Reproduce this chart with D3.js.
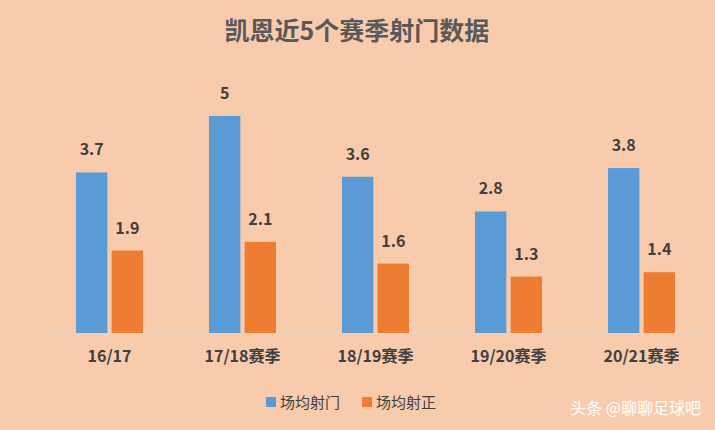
<!DOCTYPE html>
<html>
<head>
<meta charset="utf-8">
<script src="https://d3js.org/d3.v7.min.js"></script>
<style>
  html, body { margin: 0; padding: 0; background: #f8cbad; }
  svg { display: block; font-family: "Noto Sans CJK SC", "Noto Sans", sans-serif; }
</style>
</head>
<body>
<svg id="chart" width="715" height="430"></svg>
<script>
var seasons = ["16/17", "17/18赛季", "18/19赛季", "19/20赛季", "20/21赛季"];
var shots = [3.7, 5, 3.6, 2.8, 3.8];
var onTarget = [1.9, 2.1, 1.6, 1.3, 1.4];
var seriesNames = ["场均射门", "场均射正"];
var colors = ["#5b9bd5", "#ed7d31"];

var svg = d3.select("#chart");
svg.append("rect").attr("width", 715).attr("height", 430).attr("fill", "#f8cbad");

var baseY = 333;
var x = d3.scaleBand().domain(seasons).range([43, 708]);
var y = d3.scaleLinear().domain([0, 5]).range([baseY, 116]);
var inner = d3.scaleBand().domain([0, 1]).range([0, 67]).paddingInner(0.12);

svg.append("text").attr("x", 357).attr("y", 40).attr("text-anchor", "middle")
  .attr("font-size", 25).attr("font-weight", "bold").attr("fill", "#595959")
  .text("凯恩近5个赛季射门数据");

svg.append("line").attr("x1", 43).attr("x2", 708).attr("y1", baseY).attr("y2", baseY)
  .attr("stroke", "#d9d9d9").attr("stroke-width", 1);

[shots, onTarget].forEach(function(vals, s) {
  var g = svg.append("g");
  g.selectAll("rect").data(vals).enter().append("rect")
    .attr("x", function(d, i){ return x(seasons[i]) + x.bandwidth()/2 - 33.5 + inner(s); })
    .attr("y", function(d){ return y(d); })
    .attr("width", inner.bandwidth())
    .attr("height", function(d){ return baseY - y(d); })
    .attr("fill", colors[s]);
  g.selectAll("text").data(vals).enter().append("text")
    .attr("x", function(d, i){ return x(seasons[i]) + x.bandwidth()/2 - 33.5 + inner(s) + inner.bandwidth()/2; })
    .attr("y", function(d){ return y(d) - 17; })
    .attr("text-anchor", "middle").attr("font-size", 16).attr("font-weight", "bold")
    .attr("fill", "#404040")
    .text(function(d){ return d; });
});

svg.append("g").selectAll("text").data(seasons).enter().append("text")
  .attr("x", function(d){ return x(d) + x.bandwidth()/2; })
  .attr("y", 362).attr("text-anchor", "middle")
  .attr("font-size", 16).attr("font-weight", "bold").attr("fill", "#404040")
  .text(function(d){ return d; });

var legX = [266, 362];
seriesNames.forEach(function(n, i) {
  svg.append("rect").attr("x", legX[i]).attr("y", 397).attr("width", 10).attr("height", 10).attr("fill", colors[i]);
  svg.append("text").attr("x", legX[i] + 14).attr("y", 408).attr("font-size", 15)
    .attr("fill", "#404040").text(n);
});

svg.append("text").attr("x", 701).attr("y", 414).attr("text-anchor", "end")
  .attr("font-size", 16).attr("fill", "#ffffff").text("头条 @聊聊足球吧");
</script>
</body>
</html>
